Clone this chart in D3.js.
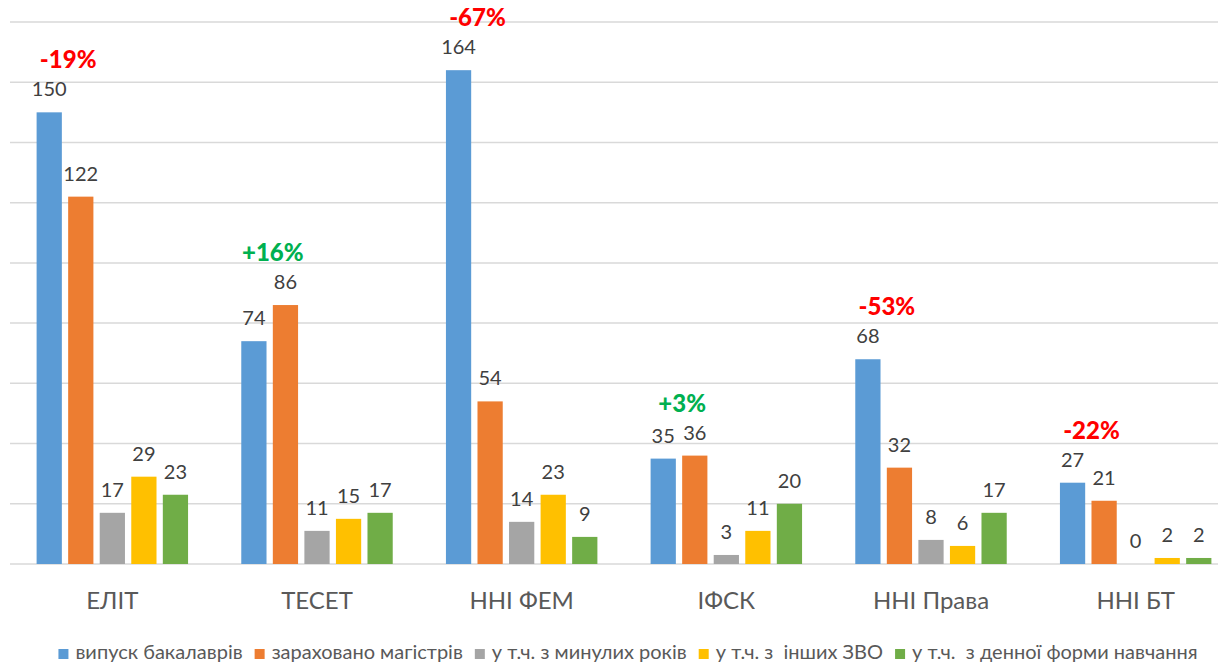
<!DOCTYPE html>
<html>
<head>
<meta charset="utf-8">
<script src="https://cdn.jsdelivr.net/npm/d3@7"></script>
<style>
  body { margin: 0; background: #fff; }
  text { font-family: Lato, "Open Sans", sans-serif; }
</style>
</head>
<body>
<script>
// Chart data
const categories = ["ЕЛІТ", "ТЕСЕТ", "ННІ ФЕМ", "ІФСК", "ННІ Права", "ННІ БТ"];
const seriesNames = [
    "випуск бакалаврів",
    "зараховано магістрів",
    "у т.ч. з минулих років",
    "у т.ч. з  інших ЗВО",
    "у т.ч.  з денної форми навчання"
];
const bachelors = [150, 74, 164, 35, 68, 27];
const enrolled = [122, 86, 54, 36, 32, 21];
const pastYears = [17, 11, 14, 3, 8, 0];
const otherUni = [29, 15, 23, 11, 6, 2];
const fullTime = [23, 17, 9, 20, 17, 2];
const changes = ["-19%", "+16%", "-67%", "+3%", "-53%", "-22%"];
const yTicks = [0, 20, 40, 60, 80, 100, 120, 140, 160, 180];

const seriesValues = [bachelors, enrolled, pastYears, otherUni, fullTime];
const colors = ["#5B9BD5", "#ED7D31", "#A5A5A5", "#FFC000", "#70AD47"];

const width = 1218;
const height = 663;

const svg = d3.select("body")
    .append("svg")
    .attr("width", width)
    .attr("height", height);

// Scales
const x0 = d3.scaleBand()
    .domain(categories)
    .range([10, 1238])
    .paddingInner(0.26)
    .paddingOuter(0.13);

const x1 = d3.scaleBand()
    .domain(d3.range(seriesNames.length))
    .range([0, x0.bandwidth()])
    .paddingInner(0.2);

const y = d3.scaleLinear()
    .domain([0, 180])
    .range([564, 22]);

// Gridlines
svg.append("g")
    .selectAll("line")
    .data(yTicks)
    .join("line")
    .attr("x1", 10)
    .attr("x2", width)
    .attr("y1", d => y(d))
    .attr("y2", d => y(d))
    .attr("stroke", "#d9d9d9")
    .attr("stroke-width", 1.5);

// Bars
const groups = svg.append("g")
    .selectAll("g")
    .data(categories)
    .join("g")
    .attr("transform", d => `translate(${x0(d)},0)`);

groups.selectAll("rect")
    .data((d, i) => seriesValues.map((vals, s) => ({ s, v: vals[i] })))
    .join("rect")
    .attr("x", d => x1(d.s))
    .attr("y", d => y(d.v))
    .attr("width", x1.bandwidth())
    .attr("height", d => y(0) - y(d.v))
    .attr("fill", d => colors[d.s]);

// Value labels
groups.selectAll("text.val")
    .data((d, i) => seriesValues.map((vals, s) => ({ s, v: vals[i] })))
    .join("text")
    .attr("class", "val")
    .attr("x", d => x1(d.s) + x1.bandwidth() / 2)
    .attr("y", d => y(d.v) - 16)
    .attr("text-anchor", "middle")
    .attr("font-size", 20)
    .attr("fill", "#404040")
    .text(d => d.v);

// Change annotations (between first two bars)
groups.append("text")
    .attr("x", x1(1))
    .attr("y", (d, i) => y(Math.max(bachelors[i], enrolled[i])) - 44)
    .attr("text-anchor", "middle")
    .attr("font-size", 24)
    .attr("font-weight", 900)
    .attr("fill", (d, i) => changes[i].startsWith("+") ? "#00B050" : "#FF0000")
    .text((d, i) => changes[i]);

// X axis labels
svg.append("g")
    .attr("transform", "translate(0,609)")
    .call(d3.axisBottom(x0).tickSize(0).tickPadding(0))
    .call(g => g.select(".domain").remove())
    .call(g => g.selectAll("text")
        .attr("dy", 0)
        .attr("font-size", 24)
        .attr("font-family", "Lato, 'Open Sans', sans-serif")
        .attr("fill", "#595959"));

// Legend
const legend = svg.append("g").attr("transform", "translate(0,659)");
const items = legend.selectAll("g")
    .data(seriesNames)
    .join("g");

items.append("rect")
    .attr("y", -10)
    .attr("width", 10)
    .attr("height", 10)
    .attr("fill", (d, i) => colors[i]);

items.append("text")
    .attr("x", 17)
    .attr("font-size", 20)
    .attr("fill", "#595959")
    .style("white-space", "pre")
    .text(d => d);

let offset = 0;
const positions = [];
items.each(function () {
    positions.push(offset);
    offset += 17 + d3.select(this).select("text").node().getComputedTextLength() + 12;
});
const start = 628 - (offset - 12) / 2;
items.attr("transform", (d, i) => `translate(${start + positions[i]},0)`);
</script>
</body>
</html>
